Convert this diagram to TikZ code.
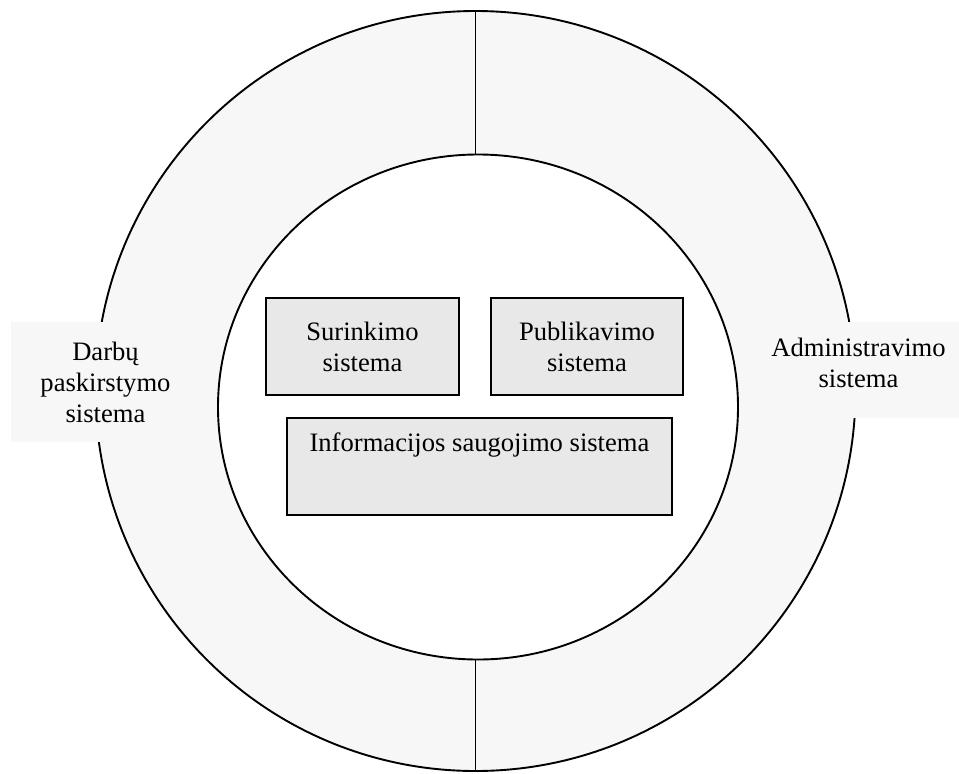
\documentclass[tikz,border=0pt]{standalone}
\usepackage{fontspec}
\setmainfont{Liberation Serif}
\usetikzlibrary{shapes.geometric}
\definecolor{ringgray}{HTML}{F7F7F7}
\definecolor{boxgray}{HTML}{E8E8E8}
\newcommand{\diagfont}{\fontsize{26.6}{31}\selectfont}
\begin{document}
\begin{tikzpicture}[x=1pt,y=-1pt,
  edge/.style={line width=1.9pt},
  subsystem/.style={draw, line width=1.9pt, fill=boxgray, inner sep=0pt, outer sep=0pt,
    align=center, font=\diagfont},
  sidelabel/.style={fill=ringgray, inner sep=0pt, outer sep=0pt, align=center, font=\diagfont},
  intext/.style={anchor=center, align=center, font=\diagfont}]
\useasboundingbox (0,0) rectangle (959,774);

% outer ring and inner core
\node[circle, draw, edge, fill=ringgray, minimum size=760pt, inner sep=0pt, outer sep=0pt]
  (outer) at (475.5,391) {};
\node[ellipse, draw, edge, fill=white, minimum width=520pt, minimum height=505pt,
  inner sep=0pt, outer sep=0pt] (inner) at (478,407) {};

% dividers splitting the ring into two halves
\draw[edge] (outer.north) -- (outer.north |- inner.north);
\draw[edge] (outer.north |- inner.south) -- (outer.south);

% ring halves
\node[sidelabel, minimum width=189pt, minimum height=120pt] (distrib) at (105.5,382)
  {Darbų\\paskirstymo\\sistema};
\node[sidelabel, minimum width=201pt, minimum height=96pt] (admin) at (858.5,370) {};
\node[intext] (admintext) at ([yshift=7pt]admin.center) {Administravimo\\sistema};

% inner subsystems
\node[subsystem, minimum width=193pt, minimum height=97pt] (collect) at (362.5,346.5)
  {Surinkimo\\sistema};
\node[subsystem, minimum width=192pt, minimum height=97pt] (publish) at (587,346.5)
  {Publikavimo\\sistema};
\node[subsystem, minimum width=385pt, minimum height=97pt] (storage) at (479.5,466.5) {};
\node[intext] (storagetext) at ([yshift=-27pt]storage.north) {Informacijos saugojimo sistema};
\end{tikzpicture}
\end{document}
